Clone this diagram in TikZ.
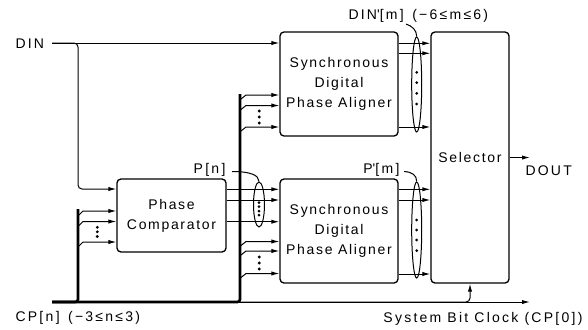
\documentclass[tikz,border=0pt]{standalone}
\usepackage{fontspec}
\setmainfont{Liberation Sans}[LetterSpace=12]
\usetikzlibrary{arrows.meta,shapes.geometric}

\tikzset{every picture/.style={line width=0.75pt}}
\tikzset{
  blk/.style={draw, line width=1pt, rounded corners=3pt, align=center, inner sep=0pt, font=\fontsize{10.5}{15}\selectfont},
  lbl/.style={inner sep=0pt, font=\fontsize{10.5}{12}\selectfont\addfontfeature{LetterSpace=16}},
  arr/.style={-{Latex[length=6pt,width=3.2pt]}},
  bus/.style={line width=2pt, rounded corners=2pt},
  grp/.style={draw, ellipse, inner sep=0pt, line width=0.75pt},
}

\begin{document}
\begin{tikzpicture}[x=0.75pt,y=0.75pt,yscale=-1,xscale=1]
\useasboundingbox (0,0) rectangle (588,329);

% Blocks
\node[blk, minimum width=88.5pt, minimum height=78pt] (sdpa1) at (339,84) {Synchronous\\Digital\\Phase Aligner};
\node[blk, minimum width=88.5pt, minimum height=78pt] (sdpa2) at (339,231) {Synchronous\\Digital\\Phase Aligner};
\node[blk, minimum width=81.75pt, minimum height=54.75pt] (pc) at (171.5,215.5) {Phase\\Comparator};
\node[blk, minimum width=58.5pt, minimum height=188.25pt] (sel) at (470,157.5) {Selector};

% Text Node
\node[lbl, anchor=west] (din) at (15,44) {DIN};
\node[lbl, anchor=east] (pn) at (226,170) {P[\,n\,]};
\node[lbl, anchor=east] (pm) at (400,170) {P\textquotesingle[\,m\,]};
\node[lbl, anchor=west] (dinm) at (348,16) {DIN\textquotesingle[\,m\,] \,(−6≤m≤6)};
\node[lbl, anchor=west] (dout) at (525,171) {DOUT};
\node[lbl, anchor=west] (cpn) at (15,318) {CP[\,n\,] \,(−3≤n≤3)};
\node[lbl, anchor=east] (sbc) at (583,319) {System Bit Clock (CP[\,0\,])};

% groups of lines
\node[grp, minimum width=8.25pt, minimum height=33.75pt] (g1) at (259,204.5) {};
\node[grp, minimum width=7.5pt, minimum height=71.25pt] (g2) at (416.7,84.5) {};
\node[grp, minimum width=7.5pt, minimum height=72pt] (g3) at (416.7,230) {};

\coordinate (dinS) at (52,43);
\coordinate (dinB) at (78,189);
\coordinate (cpS) at (52,302);
\coordinate (busA) at (78,209);
\coordinate (busB) at (240,94);
\coordinate (clkE) at (530,302);
\coordinate (doutE) at (530,157.5);

% DIN
\draw[arr] (dinS) -- (dinS -| sdpa1.west);
\draw[arr, rounded corners=3pt] (dinS) -| (dinB) -- (dinB -| pc.west);

% clock lines
\draw[arr] (cpS) -- (clkE);
\draw[arr, rounded corners=3pt] (cpS) -| (sel.south);

% CP bus
\draw[bus] (cpS) -| (busA);
\draw[bus] (cpS) -| (busB);

% bus taps
\foreach \y in {211,221.5,242}
  \draw[arr] (busA |- 0,\y+4) ++(1,0) -- (83,\y) -- (pc.west |- 0,\y);
\foreach \y in {95,105.5,127}
  \draw[arr] (busB |- 0,\y+4) ++(1,0) -- (246,\y) -- (sdpa1.west |- 0,\y);
\foreach \y in {241.5,251,273.5}
  \draw[arr] (busB |- 0,\y+4) ++(1,0) -- (246,\y) -- (sdpa2.west |- 0,\y);
\foreach \y in {227.3,231.8,236.5} \fill (97.3,\y) circle [radius=1.6];
\foreach \y in {111,117,123} \fill (259.3,\y) circle [radius=1.6];
\foreach \y in {257,263,269} \fill (259.3,\y) circle [radius=1.6];

% block outputs
\foreach \y in {189.3,200,221.7}
  \draw[arr] (pc.east |- 0,\y) -- (sdpa2.west |- 0,\y);
\foreach \y in {43.3,53.3,127}
  \draw[arr] (sdpa1.east |- 0,\y) -- (sel.west |- 0,\y);
\foreach \y in {189.3,200,274}
  \draw[arr] (sdpa2.east |- 0,\y) -- (sel.west |- 0,\y);
\draw[arr] (sel.east) -- (doutE);

\foreach \y in {202.5,206.7,211,215} \fill (259,\y) circle [radius=1.5];
\foreach \y in {72.3,82.7,93.3,104} \fill (416.7,\y) circle [radius=1.5];
\foreach \y in {220,230,240,250.7} \fill (416.7,\y) circle [radius=1.5];

% leaders
\coordinate (pnL) at (232,171.5);
\coordinate (pmL) at (404,171.5);
\coordinate (dinmL) at (406,24);
\draw (pnL) .. controls (250,171.5) and (259,175) .. (g1.north);
\draw (pmL) .. controls (412,172) and (416.7,175) .. (g3.north);
\draw (dinmL) .. controls (412,26) and (416.7,30) .. (g2.north);

\end{tikzpicture}
\end{document}
